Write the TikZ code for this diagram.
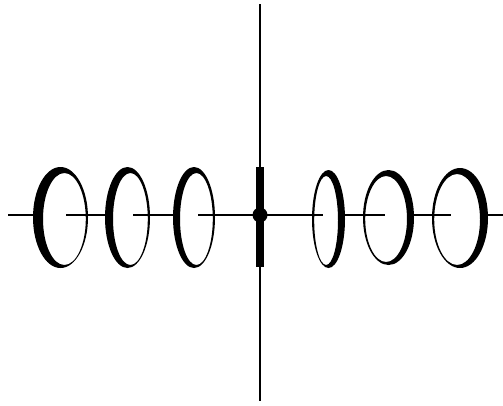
\documentclass[tikz,border=0pt]{standalone}
\begin{document}
\begin{tikzpicture}[x=1pt,y=-1pt,
  axisline/.style={line width=1.6pt,black},
  ringfill/.style={fill=black,even odd rule}]
\useasboundingbox (0,0) rectangle (503,405);
% vertical axis
\coordinate (vt) at (260,4);
\coordinate (vb) at (260,401);
\draw[axisline] (vt) -- (vb);
% horizontal axis segments (hidden behind the near side of each ring)
\coordinate (h0) at (8,215);
\coordinate (h1) at (33,215);
\coordinate (h2) at (66,215);
\coordinate (h3) at (105,215);
\coordinate (h4) at (133,215);
\coordinate (h5) at (173,215);
\coordinate (h6) at (198,215);
\coordinate (h7) at (260,215);
\coordinate (h8) at (323,215);
\coordinate (h9) at (345,215);
\coordinate (h10) at (385,215);
\coordinate (h11) at (414,215);
\coordinate (h12) at (451,215);
\coordinate (h13) at (488,215);
\coordinate (h14) at (503,215);
\draw[axisline] (h0) -- (h1) (h2) -- (h3) (h4) -- (h5) (h6) -- (h7) -- (h8)
  (h9) -- (h10) (h11) -- (h12) (h13) -- (h14);
% left rings (thick on the left)
\fill[ringfill] (60.5,217.5) ellipse [x radius=27.5pt, y radius=50.5pt]
  (64.4,219) ellipse [x radius=21.4pt, y radius=46pt];
\fill[ringfill] (127.5,217.5) ellipse [x radius=22.5pt, y radius=50.5pt]
  (130.4,219) ellipse [x radius=17.4pt, y radius=46pt];
\fill[ringfill] (194,217.5) ellipse [x radius=21pt, y radius=50.5pt]
  (196.4,219) ellipse [x radius=16.4pt, y radius=46pt];
% right rings (thick on the right)
\fill[ringfill] (328.5,219) ellipse [x radius=16.5pt, y radius=49pt]
  (326.1,220.5) ellipse [x radius=11.9pt, y radius=44.5pt];
\fill[ringfill] (388.5,217.5) ellipse [x radius=25.5pt, y radius=47.5pt]
  (386.1,219) ellipse [x radius=20.9pt, y radius=43pt];
\fill[ringfill] (460,218) ellipse [x radius=28pt, y radius=50pt]
  (457.1,219.5) ellipse [x radius=22.9pt, y radius=45.5pt];
% central bar and dot
\fill[black] (256,167) rectangle (264,267);
\fill[black] (h7) circle [radius=7.5pt];
\end{tikzpicture}
\end{document}
